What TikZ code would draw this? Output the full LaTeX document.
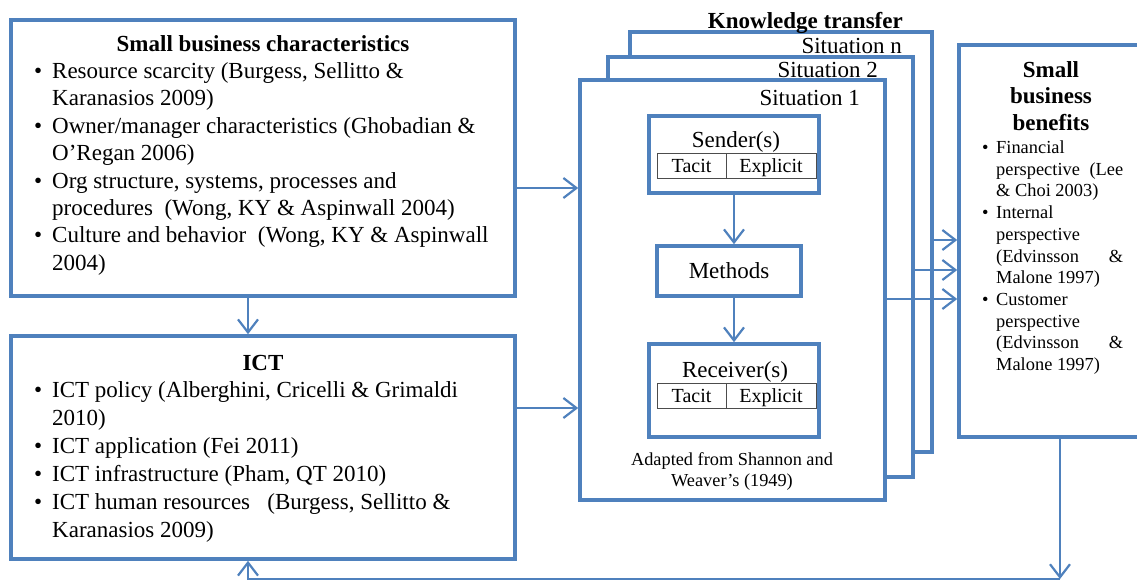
\documentclass[tikz,border=0pt]{standalone}
\usepackage{fontspec}
\setmainfont{Liberation Serif}
\usetikzlibrary{arrows.meta,calc}
\definecolor{bl}{RGB}{79,129,189}
% bullet and hanging indent for the list lines
\newcommand{\itembul}{\makebox[18pt][l]{\textbullet}}
\newcommand{\itemind}{\hspace*{18pt}}
\newcommand{\smbul}{\makebox[14pt][l]{\textbullet}}
\newcommand{\smind}{\hspace*{14pt}}
\begin{document}
\begin{tikzpicture}[x=1pt,y=-1pt,
  frame/.style={draw=bl,line width=3.6pt,fill=white,inner sep=0pt},
  cell/.style={draw=black!70,line width=0.9pt,inner sep=0pt,minimum height=25pt,
    text height=14pt,text depth=0pt,font=\fontsize{20}{24}\selectfont},
  conn/.style={draw=bl,line width=2.2pt,-{Straight Barb[length=13pt,width=20pt]}},
  txt/.style={inner sep=0pt,font=\fontsize{23}{27.4}\selectfont},
  btxt/.style={inner sep=0pt,font=\fontsize{23}{27.4}\selectfont\bfseries}]
\useasboundingbox (0,0) rectangle (1137,581);

% left column
\node[frame,minimum width=504pt,minimum height=276pt] (sbc) at (263,158) {};
\node[frame,minimum width=504pt,minimum height=223pt] (ict) at (263,447.5) {};

\node[btxt,anchor=base] (sbcTitle) at (263,51) {Small business characteristics};
\node[txt,anchor=base west] (sbcList) at (34,78.5) {\begin{minipage}[t]{480pt}\fontsize{23}{27.4}\selectfont
\itembul Resource scarcity (Burgess, Sellitto \&\\
\itemind Karanasios 2009)\\
\itembul Owner/manager characteristics (Ghobadian \&\\
\itemind O'Regan 2006)\\
\itembul Org structure, systems, processes and\\
\itemind procedures\ \ (Wong, KY \& Aspinwall 2004)\\
\itembul Culture and behavior\ \ (Wong, KY \& Aspinwall\\
\itemind 2004)\end{minipage}};

\node[btxt,anchor=base] (ictTitle) at (263,370) {ICT};
\node[txt,anchor=base west] (ictList) at (34,397) {\begin{minipage}[t]{480pt}\fontsize{23}{28}\selectfont
\itembul ICT policy (Alberghini, Cricelli \& Grimaldi\\
\itemind 2010)\\
\itembul ICT application (Fei 2011)\\
\itembul ICT infrastructure (Pham, QT 2010)\\
\itembul ICT human resources\ \ \ (Burgess, Sellitto \&\\
\itemind Karanasios 2009)\end{minipage}};

% stacked situations
\node[frame,minimum width=302pt,minimum height=420pt] (sitn) at (781,242) {};
\node[frame,minimum width=305pt,minimum height=420pt] (sit2) at (760.5,267) {};
\node[frame,minimum width=305pt,minimum height=420pt] (sit1) at (732.5,290) {};

\node[btxt,anchor=base east] (ktTitle) at (903,28) {Knowledge transfer};
\node[txt,anchor=base east] (sitnLbl) at (902,53) {Situation n};
\node[txt,anchor=base east] (sit2Lbl) at (878,77) {Situation 2};
\node[txt,anchor=base east] (sit1Lbl) at (860,105) {Situation 1};

% communication model inside situation 1
\node[frame,minimum width=170pt,minimum height=77pt] (send) at (734,154.5) {};
\node[txt,anchor=base] (sendLbl) at (736,147) {Sender(s)};
\node[cell,minimum width=69pt] (sendT) at (691.5,165.5) {Tacit};
\node[cell,minimum width=90pt] (sendE) at (771,165.5) {Explicit};

\node[frame,minimum width=144pt,minimum height=50pt,
  font=\fontsize{23}{27.4}\selectfont] (meth) at (729,271) {Methods};

\node[frame,minimum width=170pt,minimum height=93pt] (recv) at (734,390.5) {};
\node[txt,anchor=base] (recvLbl) at (735,377) {Receiver(s)};
\node[cell,minimum width=69pt] (recvT) at (691.5,395.5) {Tacit};
\node[cell,minimum width=90pt] (recvE) at (771,395.5) {Explicit};

\node[inner sep=0pt,anchor=base] (cap) at (732,465) {\begin{minipage}[t]{230pt}\centering
\fontsize{18.3}{21}\selectfont Adapted from Shannon and\\ Weaver’s (1949)\end{minipage}};

% benefits column
\node[frame,minimum width=182pt,minimum height=392pt] (ben) at (1050,241) {};
\node[inner sep=0pt,anchor=base] (benTitle) at (1051,77) {\begin{minipage}[t]{150pt}\centering
\fontsize{23}{26.5}\selectfont\bfseries Small\\ business\\ benefits\end{minipage}};
\node[inner sep=0pt,anchor=base west] (benList) at (982,153.5) {\begin{minipage}[t]{141pt}\fontsize{18.4}{21.7}\selectfont
\smbul Financial\\
\smind perspective\hfill(Lee\\
\smind \& Choi 2003)\\
\smbul Internal\\
\smind perspective\\
\smind (Edvinsson\hfill\&\\
\smind Malone 1997)\\
\smbul Customer\\
\smind perspective\\
\smind (Edvinsson\hfill\&\\
\smind Malone 1997)\end{minipage}};

% connector rows and columns
\coordinate (r1) at (0,188);
\coordinate (r2) at (0,408);
\coordinate (r3) at (0,240);
\coordinate (r4) at (0,270);
\coordinate (r5) at (0,299);
\coordinate (c1) at (248,0);
\coordinate (c2) at (1060,0);
\coordinate (loopR) at (1060,579);
\coordinate (loopL) at (248,579);

\draw[conn] (sbc.east |- r1) -- (sit1.west |- r1);
\draw[conn] (ict.east |- r2) -- (sit1.west |- r2);
\draw[conn] (sbc.south -| c1) -- (ict.north -| c1);
\draw[conn] (send.south) -- (send.south |- meth.north);
\draw[conn] (meth.south -| send.south) -- (recv.north);
\draw[conn] (sitn.east |- r3) -- (ben.west |- r3);
\draw[conn] (sit2.east |- r4) -- (ben.west |- r4);
\draw[conn] (sit1.east |- r5) -- (ben.west |- r5);
\draw[conn] (ben.south -| c2) -- (loopR);
\draw[conn] (loopR) -- (loopL) -- (ict.south -| c1);
\end{tikzpicture}
\end{document}
